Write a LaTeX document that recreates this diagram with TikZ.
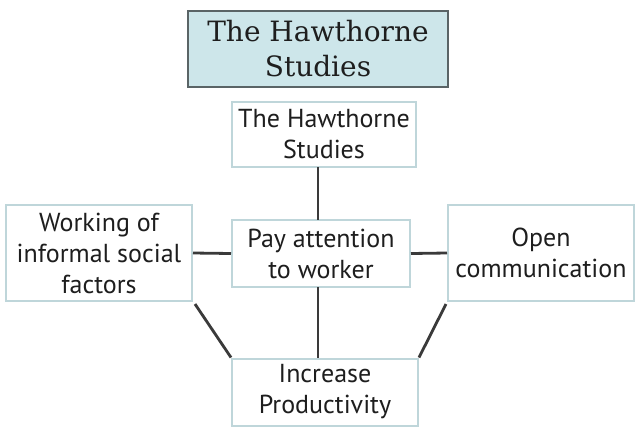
\documentclass[tikz,border=0pt]{standalone}
\usepackage{fontspec}
\setmainfont{DejaVu Serif}
\newfontfamily\boxfont{PT Sans}
\definecolor{titlefill}{HTML}{CDE6EA}
\definecolor{titleborder}{HTML}{5A6466}
\definecolor{boxborder}{HTML}{BFD6DA}
\definecolor{linkcol}{HTML}{3A3A3A}
\definecolor{textcol}{HTML}{1E1E1E}
\begin{document}
\begin{tikzpicture}[x=1pt,y=-1pt,
  titlebox/.style={draw=titleborder,line width=2pt,fill=titlefill,inner sep=0pt,
    minimum width=260pt,minimum height=76pt,align=center,text=textcol,
    font=\fontsize{28}{35}\selectfont},
  plainbox/.style={draw=boxborder,line width=2pt,fill=white,inner sep=0pt,
    align=center,text=textcol,font=\boxfont\fontsize{26}{31}\selectfont},
  link/.style={draw=linkcol,line width=2.8pt}]
\useasboundingbox (0,0) rectangle (640,432);
\fill[white] (0,0) rectangle (640,432);
\node[titlebox] (title) at (318,49) {The Hawthorne\\Studies};
\node[plainbox,minimum width=184pt,minimum height=65pt] (haw) at (324,134.5) {The Hawthorne\\Studies};
\node[plainbox,minimum width=178pt,minimum height=67pt] (pay) at (321,253.5) {Pay attention\\to worker};
\node[plainbox,minimum width=186pt,minimum height=96pt] (work) at (99,253) {Working of\\informal social\\factors};
\node[plainbox,minimum width=186pt,minimum height=96pt] (open) at (541,253) {Open\\communication};
\node[plainbox,minimum width=186pt,minimum height=67pt] (inc) at (325,392) {Increase\\Productivity};
\coordinate (hawb) at (318,167);
\coordinate (payt) at (318,220);
\coordinate (payb) at (318,287);
\coordinate (inct) at (318,358);
\draw[link] (hawb) -- (payt);
\draw[link] (payb) -- (inct);
\draw[link] (work.east) -- (pay.west);
\draw[link] (pay.east) -- (open.west);
\draw[link] (work.south east) ++(2,2) -- (inc.north west);
\draw[link] (open.south west) ++(-1,2) -- (inc.north east);
\end{tikzpicture}
\end{document}
